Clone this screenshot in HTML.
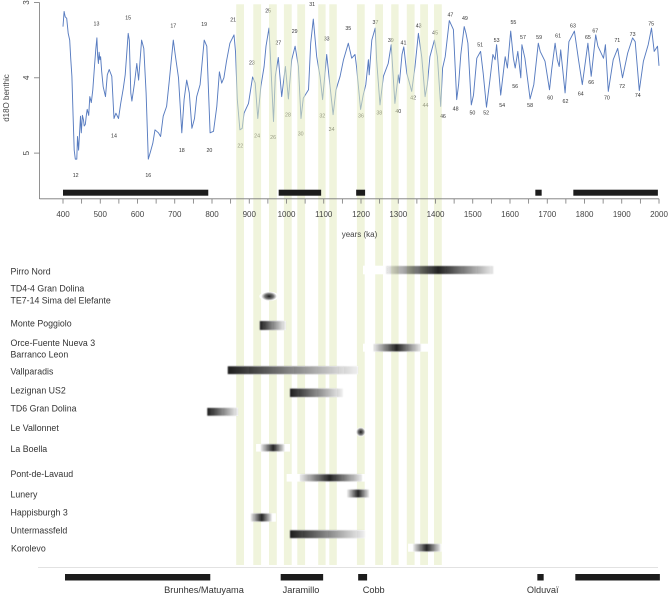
<!DOCTYPE html>
<html lang="en">
<head>
<meta charset="utf-8">
<title>d18O benthic record and European early Pleistocene sites</title>
<style>
html,body{margin:0;padding:0;background:#fff;}
body{width:669px;height:597px;overflow:hidden;}
svg{display:block;}
.axis{font-family:"Liberation Sans",sans-serif;font-size:8px;fill:#444;}
.site{font-family:"Liberation Sans",sans-serif;font-size:8.8px;fill:#333;}
.event{font-family:"Liberation Sans",sans-serif;font-size:9.2px;fill:#333;text-anchor:middle;}
</style>
</head>
<body>
<svg id="chart" xmlns="http://www.w3.org/2000/svg" width="669" height="597" viewBox="0 0 669 597">
  <defs id="defs"></defs>
  <rect x="0" y="0" width="669" height="597" fill="#fff"/>
  <g id="curve-layer"></g>
  <g id="mis-layer"></g>
  <g id="band-layer"></g>
  <g id="axis-layer"></g>
  <g id="polarity-layer"></g>
  <text class="axis" transform="translate(9,98) rotate(-90)" text-anchor="middle">d18O benthic</text>
  <text class="axis" x="359.5" y="237" text-anchor="middle">years (ka)</text>
  <g id="site-bars"></g>
  <g>
    <text class="site" x="10.5" y="274.5">Pirro Nord</text>
    <text class="site" x="10.5" y="291.7">TD4-4 Gran Dolina</text>
    <text class="site" x="10.5" y="303.7">TE7-14 Sima del Elefante</text>
    <text class="site" x="10.5" y="326.7">Monte Poggiolo</text>
    <text class="site" x="10.5" y="346">Orce-Fuente Nueva 3</text>
    <text class="site" x="10.5" y="357.7">Barranco Leon</text>
    <text class="site" x="10.5" y="374.7">Vallparadis</text>
    <text class="site" x="10.5" y="393.3">Lezignan US2</text>
    <text class="site" x="10.5" y="411.7">TD6 Gran Dolina</text>
    <text class="site" x="10.5" y="431">Le Vallonnet</text>
    <text class="site" x="10.5" y="452">La Boella</text>
    <text class="site" x="10.5" y="477">Pont-de-Lavaud</text>
    <text class="site" x="10.5" y="497.7">Lunery</text>
    <text class="site" x="10.5" y="515.3">Happisburgh 3</text>
    <text class="site" x="10.5" y="533.7">Untermassfeld</text>
    <text class="site" x="11" y="551.7">Korolevo</text>
  </g>
  <line x1="38" y1="567.4" x2="658" y2="567.4" stroke="#d9d9d9" stroke-width="0.8"/>
  <g id="lower-polarity-layer"></g>
  <g>
    <text class="event" x="204" y="593">Brunhes/Matuyama</text>
    <text class="event" x="301" y="593">Jaramillo</text>
    <text class="event" x="373.7" y="593">Cobb</text>
    <text class="event" x="542.7" y="593">Olduvaï</text>
  </g>
</svg>
<script>
// Benthic curve
const ages = [400,403,406,410,414,418,421,424,427,430,433,437,439,442,447,449,452,455,457,460,463,465,469,472,476,480,485,488,491,493,495,497,499,501,504,508,514,519,524,531,537,542,549,555,562,567,575,578,582,585,592,598,603,611,617,623,629,635,641,647,656,662,669,678,685,696,702,710,719,725,732,739,746,753,759,768,779,786,795,804,813,820,826,832,839,848,859,863,868,875,881,886,898,909,916,923,931,940,945,953,958,965,970,978,987,997,1005,1014,1023,1032,1039,1045,1059,1065,1072,1081,1090,1097,1108,1117,1125,1133,1144,1153,1166,1175,1184,1188,1199,1206,1213,1220,1222,1229,1238,1242,1251,1260,1273,1281,1291,1300,1303,1310,1315,1323,1336,1345,1354,1363,1372,1378,1385,1397,1405,1414,1419,1426,1437,1448,1457,1462,1468,1477,1482,1487,1496,1502,1511,1521,1528,1537,1546,1554,1560,1564,1575,1587,1593,1602,1609,1614,1621,1629,1632,1640,1654,1664,1676,1681,1694,1706,1712,1721,1727,1732,1736,1748,1758,1773,1784,1794,1809,1818,1830,1836,1851,1856,1864,1877,1889,1902,1916,1929,1936,1947,1958,1971,1980,1987,1996,2000];
const d18O = [3.32,3.12,3.19,3.21,3.41,3.50,3.76,3.98,4.51,4.96,5.08,5.08,4.78,4.96,4.51,4.73,4.50,4.56,4.64,4.62,4.48,4.42,4.50,4.25,4.33,4.16,3.81,3.62,3.47,3.70,3.81,3.66,3.76,3.72,3.92,4.12,4.25,3.96,3.89,3.98,4.54,4.47,4.54,4.34,4.14,3.96,3.41,3.50,4.20,4.31,4.07,3.81,4.03,3.50,3.61,4.20,5.08,4.98,4.87,4.69,4.73,4.78,4.51,4.38,4.05,3.50,3.72,4.00,4.73,4.29,4.03,4.20,4.67,4.54,4.25,4.09,3.50,3.58,4.73,4.71,4.38,3.92,4.07,4.00,3.78,3.54,3.43,3.65,4.29,4.69,4.67,4.47,4.34,3.99,4.07,4.54,4.12,3.85,3.58,3.34,3.85,4.58,3.98,3.73,4.25,3.85,4.28,3.76,3.58,3.85,4.54,4.27,4.16,3.54,3.22,3.72,3.98,4.29,3.69,4.12,4.49,4.16,3.98,3.76,3.54,3.74,3.69,3.85,4.42,4.23,4.09,3.76,3.96,3.50,3.34,3.76,4.36,3.98,3.81,3.56,4.34,3.96,4.07,3.69,3.59,3.94,4.18,3.85,3.41,3.72,4.25,4.09,3.72,3.50,3.72,4.38,3.87,3.72,3.24,3.36,4.29,4.09,3.69,3.32,3.41,3.54,4.36,4.23,3.74,3.65,3.94,4.39,4.03,3.69,3.76,3.56,4.23,3.72,3.87,3.38,3.74,3.87,3.65,4.00,3.56,3.74,4.28,4.09,3.54,3.65,3.78,4.16,3.89,3.54,3.76,3.85,3.63,4.20,3.52,3.38,3.76,4.09,3.54,3.98,3.43,3.58,3.74,3.56,4.18,3.76,3.61,4.00,3.67,3.47,3.52,4.17,3.78,3.56,3.34,3.65,3.58,3.84];

// Marine isotope stage labels
const misNames = ["12","13","14","15","16","17","18","19","20","21","22","23","24","25","26","27","28","29","30","31","32","33","34","35","36","37","38","39","40","41","42","43","44","45","46","47","48","49","50","51","52","53","54","55","56","57","58","59","60","61","62","63","64","65","66","67","70","71","72","73","74","75"];
const misAges = [434,490,537,575,629,696,719,779,793,857,876,907,921,951,964,978,1004,1022,1038,1069,1096,1108,1121,1166,1200,1239,1249,1280,1300,1314,1340,1355,1373,1399,1420,1440,1454,1479,1499,1520,1536,1564,1579,1609,1614,1635,1654,1678,1708,1729,1749,1769,1790,1809,1818,1829,1860,1888,1901,1929,1943,1979];
const misValues = [5.29,3.28,4.77,3.20,5.29,3.31,4.96,3.29,4.96,3.23,4.90,3.80,4.77,3.11,4.79,3.53,4.49,3.38,4.74,3.02,4.50,3.48,4.68,3.34,4.50,3.26,4.46,3.50,4.44,3.53,4.26,3.31,4.36,3.40,4.51,3.16,4.41,3.21,4.46,3.56,4.46,3.50,4.36,3.26,4.11,3.46,4.36,3.46,4.26,3.44,4.31,3.31,4.21,3.46,4.06,3.37,4.26,3.50,4.11,3.42,4.23,3.28];

// Glacial bands, start and end in ka
const bandStarts = [865,911,953,993,1029,1085,1115,1189,1238,1281,1323,1359,1396];
const bandEnds = [886,932,974,1014,1050,1105,1135,1210,1259,1301,1344,1380,1417];

// Polarity intervals in ka
const polarityStarts = [400,979,1187,1668,1770];
const polarityEnds = [790,1093,1211,1685,1997];

// Axis ticks
const xTickLabels = [400,500,600,700,800,900,1000,1100,1200,1300,1400,1500,1600,1700,1800,1900,2000];
const xMinorTicks = [450,550,650,750,850,950,1050,1150,1250,1350,1450,1550,1650,1750,1850,1950];
const yTickLabels = [3,4,5];

// Site age ranges in ka: start, peak, end
const siteNames = ["pirro-nord","td4-te7","monte-poggiolo","orce-barranco","vallparadis","lezignan","td6","le-vallonnet","la-boella","pont-de-lavaud","lunery","happisburgh","untermassfeld","korolevo"];
const siteStarts = [1262,928,923,1228,837,1004,782,1181,926,1031,1158,899,1004,1335];
const sitePeaks = [1402,948,923,1290,837,1004,782,1194,959,1111,1187,928,1004,1371];
const siteEnds = [1550,970,993,1355,1187,1146,865,1206,989,1197,1216,955,1205,1408];
const siteMaskStarts = [1200,921,923,1200,837,1004,782,1181,913,995,1158,897,1004,1321];
const siteMaskEnds = [1262,974,993,1376,1187,1146,865,1206,1004,1205,1216,966,1205,1411];
const ovalSites = ["td4-te7","le-vallonnet"];

const NS = 'http://www.w3.org/2000/svg';
const xTop = a => 63 + (a - 400) * 0.3725;
const xLow = a => 65 + (a - 400) * 0.3725;
const yTop = v => 2.5 + (v - 3) * 75.3;
const siteRowCenters = [270, 296.3, 325.5, 347.7, 370.2, 392.8, 411.8, 432, 447.8, 477.8, 493.5, 517.5, 534.2, 547.7];
const siteRowHeights = [8.6, 9, 9.5, 8, 8.4, 9, 8.4, 9.4, 7.6, 7.6, 8.4, 8.4, 8.4, 8];
const make = (tag, attrs) => {
  const n = document.createElementNS(NS, tag);
  for (const k in attrs) n.setAttribute(k, attrs[k]);
  return n;
};

const curve = make('polyline', {
  points: ages.map((a, i) => xTop(a).toFixed(1) + ',' + yTop(d18O[i]).toFixed(1)).join(' '),
  fill: 'none', stroke: '#587cc0', 'stroke-width': '0.95', 'stroke-linejoin': 'round'
});


document.getElementById('curve-layer').appendChild(curve);

misNames.forEach((name, i) => {
  const t = make('text', {
    x: xTop(misAges[i]).toFixed(1), y: (yTop(misValues[i]) + 1.9).toFixed(1),
    'text-anchor': 'middle', 'font-size': '5.3',
    'font-family': '"Liberation Sans",sans-serif', fill: '#333'
  });
  
  
  t.textContent = name;
  document.getElementById('mis-layer').appendChild(t);
});

bandStarts.forEach((s, i) => {
  const r = make('rect', {
    x: xTop(s).toFixed(1), y: 4.3, width: (xTop(bandEnds[i]) - xTop(s)).toFixed(1), height: 560.7,
    fill: '#e4ebc0', 'fill-opacity': '0.55'
  });
  
  
  document.getElementById('band-layer').appendChild(r);
});

const axes = document.getElementById('axis-layer');
const yLine = make('line', {x1: 39.5, y1: 2.5, x2: 39.5, y2: 199, stroke: '#777', 'stroke-width': '0.8'});


axes.appendChild(yLine);
const xLine = make('line', {x1: 39.5, y1: 198.8, x2: 659, y2: 198.8, stroke: '#777', 'stroke-width': '0.8'});


axes.appendChild(xLine);
yTickLabels.forEach(v => {
  const tick = make('line', {x1: 34, y1: yTop(v), x2: 39.5, y2: yTop(v), stroke: '#777', 'stroke-width': '0.8'});
  
  
  axes.appendChild(tick);
  const t = make('text', {class: 'axis', 'text-anchor': 'middle', transform: 'translate(29,' + yTop(v) + ') rotate(-90)'});
  
  
  t.textContent = v;
  axes.appendChild(t);
});
xTickLabels.concat(xMinorTicks).forEach(a => {
  const tick = make('line', {x1: xTop(a), y1: 198.8, x2: xTop(a), y2: 203.6, stroke: '#777', 'stroke-width': '0.8'});
  
  
  axes.appendChild(tick);
});
xTickLabels.forEach(a => {
  const t = make('text', {class: 'axis', x: xTop(a), y: 217, 'text-anchor': 'middle'});
  
  
  t.textContent = a;
  axes.appendChild(t);
});

polarityStarts.forEach((s, i) => {
  const upper = make('rect', {x: xTop(s), y: 189.7, width: xTop(polarityEnds[i]) - xTop(s), height: 6, fill: '#1c1c1c'});
  
  
  document.getElementById('polarity-layer').appendChild(upper);
  const lower = make('rect', {x: xLow(s), y: 574, width: xLow(polarityEnds[i]) - xLow(s), height: 6.5, fill: '#1c1c1c'});
  
  
  document.getElementById('lower-polarity-layer').appendChild(lower);
});

const defs = document.getElementById('defs');
const blur = make('filter', {id: 'soft', x: '-15%', y: '-40%', width: '130%', height: '180%'});
blur.appendChild(make('feGaussianBlur', {stdDeviation: '0.6'}));
defs.appendChild(blur);

siteNames.forEach((name, i) => {
  const cy = siteRowCenters[i], h = siteRowHeights[i];
  const x0 = xLow(siteStarts[i]), x1 = xLow(siteEnds[i]);
  const hardEdge = sitePeaks[i] === siteStarts[i];
  const oval = ovalSites.includes(name);
  if (!oval) {
    const mask = make('rect', {
      x: xLow(siteMaskStarts[i]), y: cy - h / 2,
      width: xLow(siteMaskEnds[i]) - xLow(siteMaskStarts[i]), height: h, fill: '#fff'
    });
    
    
    document.getElementById('site-bars').appendChild(mask);
  }
  if (oval) {
    const halo = make('ellipse', {
      cx: xLow(sitePeaks[i]), cy: cy,
      rx: (xLow(siteMaskEnds[i]) - xLow(siteMaskStarts[i])) / 2, ry: h / 2, fill: '#fff'
    });
    
    
    document.getElementById('site-bars').appendChild(halo);
    const rad = make('radialGradient', {id: 'grad-' + name});
    rad.appendChild(make('stop', {offset: '0%', 'stop-color': '#1c1c1c'}));
    rad.appendChild(make('stop', {offset: '55%', 'stop-color': '#444', 'stop-opacity': '0.75'}));
    rad.appendChild(make('stop', {offset: '100%', 'stop-color': '#555', 'stop-opacity': '0'}));
    defs.appendChild(rad);
    const dot = make('ellipse', {
      cx: xLow(sitePeaks[i]), cy: cy, rx: (x1 - x0) / 2, ry: h / 2,
      fill: 'url(#grad-' + name + ')'
    });
    
    
    document.getElementById('site-bars').appendChild(dot);
    return;
  }
  const grad = make('linearGradient', {id: 'grad-' + name});
  const mid = ((xLow(sitePeaks[i]) - x0) / (x1 - x0) * 100).toFixed(1) + '%';
  if (hardEdge) {
    grad.appendChild(make('stop', {offset: '0%', 'stop-color': '#1c1c1c'}));
    grad.appendChild(make('stop', {offset: '100%', 'stop-color': '#1c1c1c', 'stop-opacity': '0.06'}));
  } else {
    grad.appendChild(make('stop', {offset: '0%', 'stop-color': '#222', 'stop-opacity': '0.1'}));
    grad.appendChild(make('stop', {offset: mid, 'stop-color': '#222'}));
    grad.appendChild(make('stop', {offset: '100%', 'stop-color': '#222', 'stop-opacity': '0.1'}));
  }
  defs.appendChild(grad);
  const bar = make('rect', {
    x: x0, y: cy - h / 2 + 0.3, width: x1 - x0, height: h - 0.6,
    fill: 'url(#grad-' + name + ')', filter: 'url(#soft)'
  });
  
  
  document.getElementById('site-bars').appendChild(bar);
});
</script>
</body>
</html>
